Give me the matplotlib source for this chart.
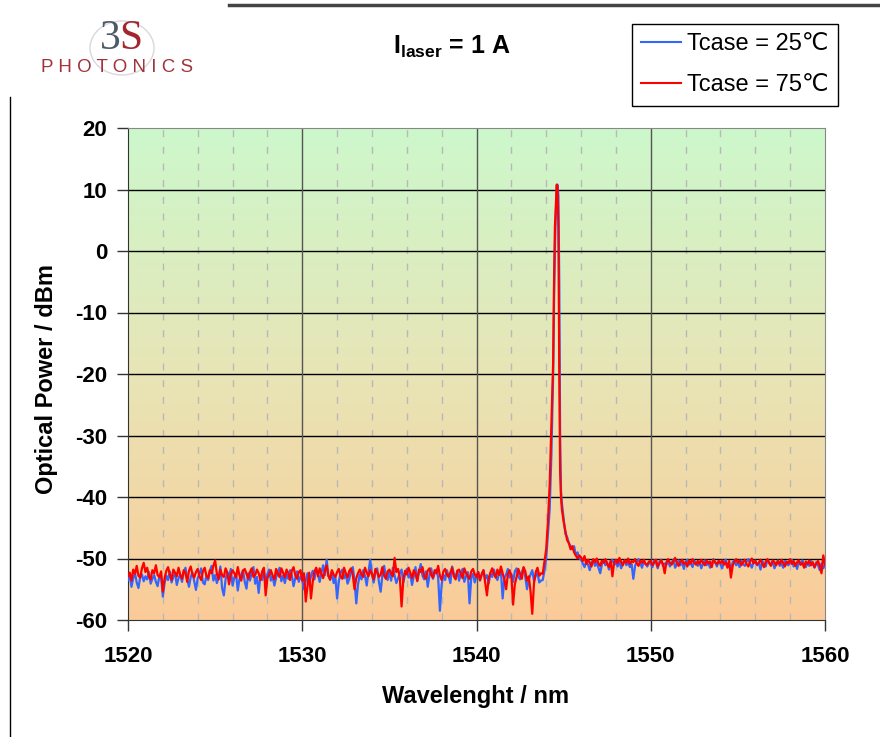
import numpy as np
import matplotlib
matplotlib.use('Agg')
import matplotlib.pyplot as plt
from matplotlib.lines import Line2D
from matplotlib.patches import Ellipse
from matplotlib.colors import LinearSegmentedColormap

plt.rcParams['font.family'] = ['Liberation Sans', 'DejaVu Sans']
plt.rcParams['mathtext.fontset'] = 'custom'
plt.rcParams['mathtext.rm'] = 'Liberation Sans'
plt.rcParams['mathtext.bf'] = 'Liberation Sans:bold'
plt.rcParams['axes.unicode_minus'] = False

# wavelength grids (nm)
wl_pre = np.round(np.arange(1520.0, 1543.75, 0.1), 2)     # 1520.0 .. 1543.7
wl_post = np.round(np.arange(1546.0, 1560.05, 0.1), 2)    # 1546.0 .. 1560.0
wl_peak = [1543.8, 1543.9, 1544.0, 1544.1, 1544.2, 1544.3, 1544.4, 1544.45,
           1544.5, 1544.55, 1544.6, 1544.65, 1544.7, 1544.75, 1544.8, 1544.85,
           1544.9, 1545.0, 1545.1, 1545.2, 1545.3, 1545.4, 1545.5, 1545.6,
           1545.7, 1545.8, 1545.9]

# Tcase = 25 C (blue), dBm
p25_pre = [
    -53.5, -52.8, -54.6, -53.2, -52.4, -53.9, -54.8, -53.0, -52.6, -53.7,
    -52.9, -53.4, -52.2, -54.1, -53.3, -52.7, -53.8, -54.5, -52.9, -53.1,
    -56.2, -54.0, -52.8, -53.5, -52.1, -53.9, -53.0, -52.4, -54.3, -53.2,
    -52.6, -53.8, -52.2, -51.5, -53.4, -54.6, -53.0, -52.3, -53.7, -55.1,
    -53.2, -52.5, -51.6, -53.9, -54.2, -52.8, -53.5, -52.0, -51.2, -53.6,
    -52.7, -54.0, -53.1, -51.3, -54.8, -56.0, -53.4, -52.2, -53.0, -51.7,
    -54.4, -53.1, -52.5, -55.2, -53.3, -52.6, -51.9, -53.8, -54.9, -52.4,
    -53.6, -52.3, -51.4, -54.1, -53.0, -55.6, -52.8, -53.5, -52.0, -53.9,
    -52.5, -51.8, -53.6, -52.9, -54.4, -53.1, -52.2, -51.5, -53.7, -52.8,
    -54.0, -52.6, -53.3, -51.9, -52.7, -54.5, -53.2, -52.1, -53.8, -52.9,
    -53.5, -55.0, -53.6, -52.4, -54.2, -52.9, -52.0, -53.4, -51.6, -52.5,
    -53.8, -52.3, -51.1, -52.7, -50.2, -52.8, -53.5, -52.1, -54.0, -53.0,
    -56.5, -53.7, -52.4, -51.8, -53.2, -52.5, -54.1, -53.3, -52.0, -51.4,
    -53.6, -57.3, -54.2, -52.6, -53.4, -51.9, -52.8, -54.4, -52.2, -50.2,
    -52.6, -53.9, -52.3, -51.6, -53.8, -55.4, -52.7, -51.2, -52.9, -53.5,
    -52.1, -53.6, -51.5, -52.8, -54.0, -53.2, -52.4, -51.8, -53.9, -52.6,
    -51.7, -53.1, -52.5, -54.3, -52.9, -51.4, -53.7, -52.2, -50.9, -52.8,
    -53.4, -52.1, -54.6, -52.7, -51.6, -53.3, -52.4, -51.8, -53.1, -58.5,
    -54.2, -52.6, -53.5, -51.9, -52.8, -54.0, -51.3, -52.5, -53.2, -52.0,
    -53.6, -52.4, -51.7, -53.8, -52.9, -52.2, -57.3, -53.1, -52.5, -53.9,
    -52.8, -52.2, -53.6, -52.5, -51.9, -53.3, -52.7, -54.1, -52.4, -53.0,
    -51.8, -52.9, -53.5, -52.3, -52.0, -56.5, -53.2, -52.6, -51.7, -53.1,
    -52.5, -53.8, -52.1, -51.6, -52.9, -53.4, -52.2, -51.5, -53.0, -55.0,
    -53.4, -52.6, -51.9, -53.7, -52.8, -52.3, -53.9, -53.6]
p25_peak = [-53.5, -52.0, -50.0, -46.0, -42.0, -33.0, -20.0, -8.0,
            0.0, 6.0, 10.5, 10.8, 9.0, -5.0, -30.0, -39.0,
            -41.0, -43.5, -46.0, -46.5, -47.5, -48.0, -48.5, -48.0,
            -49.5, -49.0, -50.0]
p25_post = [
    -50.2, -50.8, -51.4, -50.5, -51.0, -51.9, -50.6, -50.3, -51.2, -50.7,
    -51.5, -52.4, -50.9, -50.4, -51.1, -50.6, -51.8, -50.5, -50.2, -51.0,
    -50.7, -51.3, -50.4, -51.6, -50.8, -50.3, -51.1, -50.6, -51.4, -50.9,
    -53.3, -51.2, -50.5, -50.1, -50.8, -51.5, -50.4, -50.9, -51.3, -50.6,
    -50.9, -51.4, -50.3, -50.7, -51.6, -50.5, -50.2, -51.2, -50.8, -51.0,
    -50.4, -51.3, -50.7, -50.2, -51.5, -50.9, -50.3, -51.1, -50.6, -51.7,
    -50.5, -50.2, -51.0, -50.8, -51.4, -50.3, -50.7, -51.2, -50.5, -51.6,
    -50.8, -50.3, -51.1, -50.6, -51.5, -50.9, -50.1, -50.7, -51.3, -50.4,
    -50.9, -51.6, -50.5, -50.2, -51.2, -50.8, -51.9, -50.6, -50.3, -51.1,
    -50.7, -51.4, -50.3, -50.9, -51.2, -50.5, -50.1, -50.8, -51.5, -50.6,
    -50.3, -51.1, -50.7, -51.8, -50.4, -50.9, -51.3, -50.2, -50.6, -51.0,
    -50.5, -51.6, -50.8, -50.3, -51.2, -50.7, -51.5, -50.4, -50.9, -51.1,
    -50.6, -50.2, -51.3, -50.8, -51.7, -50.5, -51.0, -50.3, -50.9, -51.4,
    -50.7, -51.2, -50.4, -50.9, -51.5, -50.6, -51.1, -51.9, -50.8, -51.6,
    -51.0]

# Tcase = 75 C (red), dBm
p75_pre = [
    -52.9, -52.3, -53.6, -51.8, -52.5, -51.2, -52.8, -53.1, -51.6, -50.7,
    -52.2, -51.5, -52.9, -53.4, -51.9, -52.4, -51.1, -52.7, -53.0, -52.1,
    -55.4, -53.2, -52.0, -51.4, -52.6, -53.5, -51.8, -52.3, -52.9, -51.5,
    -52.7, -53.3, -51.9, -52.4, -53.8, -52.0, -51.3, -52.6, -53.1, -52.2,
    -51.7, -52.9, -53.5, -52.1, -51.5, -52.8, -53.2, -51.9, -52.4, -51.2,
    -50.3, -52.5, -53.4, -51.8, -52.7, -53.0, -51.6, -52.3, -54.2, -52.6,
    -51.9, -52.4, -53.1, -51.4, -52.8, -53.6, -52.0, -51.7, -52.5, -53.3,
    -52.2, -51.6, -53.0, -52.7, -51.8, -52.4, -53.5, -52.1, -51.5, -56.0,
    -53.2, -52.6, -51.9, -52.8, -53.4, -51.7, -52.5, -53.0, -51.6, -52.3,
    -53.1, -51.8, -52.4, -53.5, -52.0, -51.4, -52.7, -53.3, -52.2, -51.9,
    -53.6, -52.4, -57.0, -54.5, -52.3, -56.5, -53.8, -52.1, -51.5, -52.9,
    -51.6, -52.5, -53.2, -52.0, -51.1, -52.8, -53.4, -51.9, -52.6, -53.0,
    -52.2, -51.7, -52.9, -53.3, -51.5, -52.4, -53.1, -52.0, -51.6, -52.7,
    -55.0, -53.2, -52.4, -51.8, -52.6, -53.0, -51.5, -52.3, -52.9, -51.9,
    -52.5, -53.4, -51.7, -52.2, -53.0, -52.6, -51.4, -52.8, -53.3, -52.1,
    -51.8, -52.4, -52.9, -49.9, -52.2, -51.7, -53.1, -57.8, -53.4, -52.0,
    -52.6, -51.5, -52.3, -53.2, -51.9, -52.5, -53.6, -51.8, -52.2, -51.4,
    -52.9, -53.3, -52.0, -51.6, -52.7, -53.1, -51.9, -52.4, -51.2, -52.8,
    -53.5, -52.1, -51.7, -52.6, -53.0, -52.3, -51.5, -52.9, -53.4, -52.0,
    -51.8, -52.5, -53.2, -51.6, -52.4, -52.9, -53.3, -52.1, -51.7, -52.6,
    -53.0, -52.2, -53.5, -52.6, -51.9, -54.0, -56.0, -53.2, -52.3, -51.6,
    -52.5, -53.1, -51.8, -52.7, -51.3, -52.4, -53.4, -55.0, -52.6, -51.9,
    -52.8, -57.5, -54.2, -53.0, -51.7, -52.5, -53.3, -51.4, -52.1, -53.6,
    -52.9, -55.3, -59.0, -54.0, -52.2, -51.5, -52.8, -52.4]
p75_peak = [-52.5, -50.5, -48.5, -44.0, -38.0, -28.0, -18.0, -5.0,
            4.0, 7.0, 10.8, 10.5, 4.0, -20.0, -36.0, -40.0,
            -42.0, -44.0, -45.5, -47.0, -47.5, -48.5, -48.0, -49.0,
            -49.5, -50.0, -49.5]
p75_post = [
    -49.8, -50.4, -49.6, -50.9, -50.2, -50.7, -51.3, -50.1, -50.6, -50.0,
    -50.8, -51.2, -50.3, -50.7, -50.1, -50.9, -51.4, -50.4, -52.9, -50.6,
    -50.2, -50.8, -49.9, -50.5, -51.1, -50.3, -50.7, -50.0, -50.9, -50.4,
    -50.6, -50.1, -50.8, -51.2, -50.3, -50.7, -50.2, -50.9, -51.0, -50.5,
    -50.4, -51.1, -50.6, -50.2, -51.3, -50.8, -50.3, -50.9, -52.4, -50.6,
    -50.1, -50.7, -51.0, -50.4, -49.9, -50.8, -51.2, -50.5, -50.2, -50.9,
    -50.6, -51.3, -50.3, -50.8, -50.1, -50.7, -51.0, -50.4, -50.9, -50.2,
    -50.7, -51.1, -50.3, -50.8, -50.5, -51.4, -50.2, -50.6, -50.9, -50.4,
    -50.8, -50.3, -51.0, -50.6, -51.5, -50.4, -53.1, -51.2, -50.5, -50.1,
    -50.7, -50.3, -51.1, -50.6, -50.2, -50.9, -51.3, -50.5, -50.0, -50.8,
    -50.4, -51.0, -50.7, -50.2, -50.9, -51.4, -50.5, -50.1, -50.8, -51.2,
    -50.3, -50.6, -51.1, -50.4, -50.9, -50.2, -50.7, -51.3, -50.5, -50.8,
    -50.1, -50.9, -50.4, -51.2, -50.6, -50.3, -51.0, -50.7, -51.5, -50.5,
    -50.9, -50.3, -51.1, -50.6, -51.4, -50.8, -50.4, -51.2, -52.4, -49.5,
    -51.0]

labels = ['Tcase = 25\u2103', 'Tcase = 75\u2103']
colors = ['#3366ff', '#ff0000']

wl = np.concatenate([wl_pre, wl_peak, wl_post])
p25 = np.concatenate([p25_pre, p25_peak, p25_post])
p75 = np.concatenate([p75_pre, p75_peak, p75_post])

W, H = 880, 737
fig = plt.figure(figsize=(W / 100, H / 100), dpi=100)
ax = fig.add_axes([128 / W, 1 - 620 / H, (825 - 128) / W, (620 - 128) / H])

# green -> orange background
cmap = LinearSegmentedColormap.from_list('bg', ['#fbcb98', '#e8e5b6', '#ccf8cc'])
ax.imshow(np.linspace(0, 1, 256).reshape(-1, 1), extent=[1520, 1560, -60, 20],
          aspect='auto', cmap=cmap, origin='lower', zorder=0)

ax.plot(wl, p25, color=colors[0], lw=1.6, zorder=3)
ax.plot(wl, p75, color=colors[1], lw=1.6, zorder=4)

ax.set_xlim(1520, 1560)
ax.set_ylim(-60, 20)
ax.set_xticks([1520, 1530, 1540, 1550, 1560])
ax.set_yticks(np.arange(-60, 21, 10))
ax.set_xticks([v for v in range(1522, 1560, 2) if v % 10], minor=True)

for y in range(-50, 20, 10):
    ax.axhline(y, color='black', lw=1, zorder=1)
for x in [1530, 1540, 1550]:
    ax.axvline(x, color='#555555', lw=1, zorder=1)
ax.grid(which='minor', axis='x', color='#b8b8b8', lw=1, ls=(0, (5, 7)), zorder=1)
ax.set_axisbelow(True)

ax.tick_params(which='major', direction='out', length=8, width=1, labelsize=16,
               color='#333333')
ax.tick_params(axis='x', pad=11)
ax.tick_params(axis='y', pad=7)
ax.tick_params(which='minor', length=0)
for lab in ax.get_xticklabels() + ax.get_yticklabels():
    lab.set_fontweight('bold')

for s in ['left', 'bottom']:
    ax.spines[s].set_color('#333333')
ax.spines['right'].set_color('#888888')
ax.spines['top'].set_color('#888888')

ax.set_xlabel('Wavelenght / nm', fontsize=17, fontweight='bold')
ax.xaxis.set_label_coords(0.4993, -0.132)
ax.set_ylabel('Optical Power / dBm', fontsize=17, fontweight='bold')
ax.yaxis.set_label_coords(-0.101, 0.49)

fig.text(452 / W, 1 - 47 / H, r'$\mathbf{I_{laser}}$ = 1 A', fontsize=18,
         fontweight='bold', ha='center', va='center')

handles = [Line2D([], [], color=c, lw=1.5) for c in colors]
leg = ax.legend(handles, labels, loc='upper right',
                bbox_to_anchor=(838 / W, 1 - 24 / H), bbox_transform=fig.transFigure,
                fontsize=17, frameon=True, fancybox=False, framealpha=1,
                edgecolor='black', borderpad=0.4, labelspacing=0.8,
                handlelength=1.7, handletextpad=0.25, borderaxespad=0)
leg.get_frame().set_linewidth(1)

# logo
fig.add_artist(Ellipse((122 / W, 1 - 48 / H), 64 / W, 54 / H, angle=0,
                       fill=False, edgecolor='#d8d8de', lw=1))
fig.text(121 / W, 1 - 39 / H, '3', fontsize=30, color='#4d5a66',
         family='Liberation Serif', ha='right', va='center')
fig.text(119 / W, 1 - 39 / H, 'S', fontsize=30, color='#a3262e',
         family='Liberation Serif', ha='left', va='center')
fig.text(117 / W, 1 - 67 / H, 'P H O T O N I C S', fontsize=13.5,
         color='#a0343c', ha='center', va='center')

# page decoration lines
fig.add_artist(Line2D([229 / W, 1], [1 - 5 / H, 1 - 5 / H], color='#444444', lw=2.5))
fig.add_artist(Line2D([10 / W, 10 / W], [1 - 97 / H, 0], color='black', lw=1))

fig.savefig('out.png', dpi=100)
